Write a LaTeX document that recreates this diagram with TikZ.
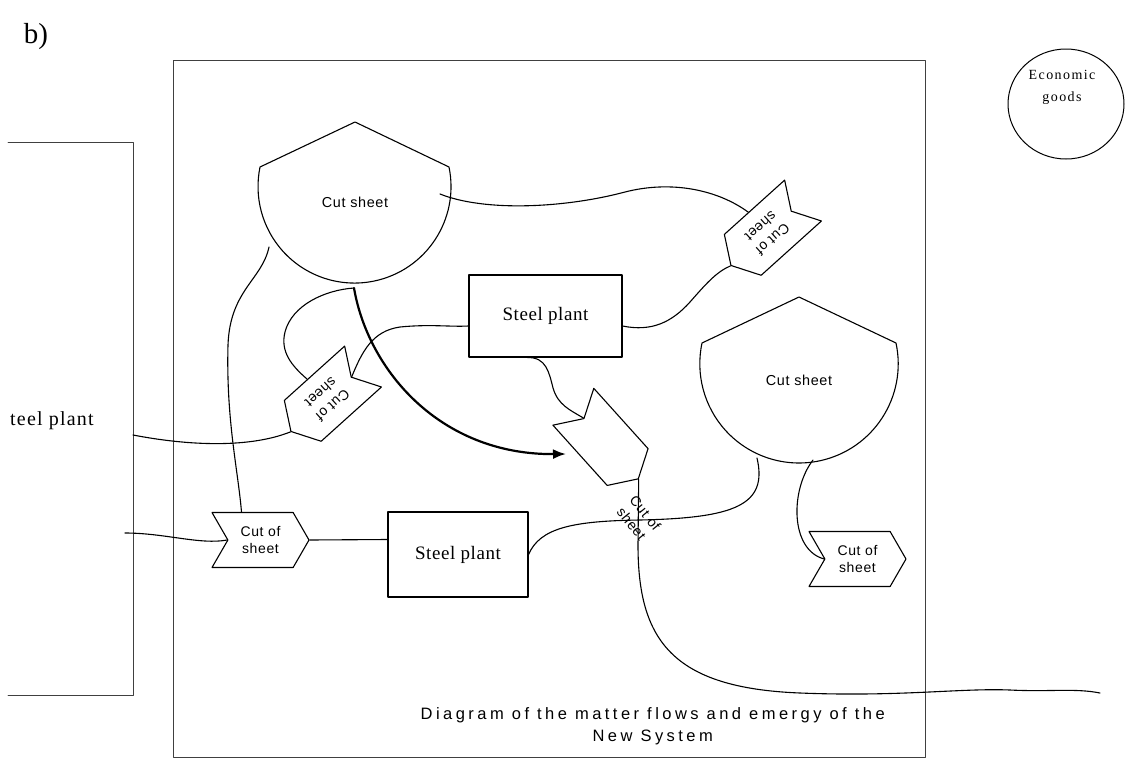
\documentclass[tikz,border=0pt]{standalone}
\usepackage{fontspec}
\setmainfont{Liberation Serif}
\newfontfamily\tagfont[LetterSpace=4.5]{Liberation Sans}
\newfontfamily\titlefont[LetterSpace=21]{Liberation Sans}
\newfontfamily\plantfont[LetterSpace=3]{Liberation Serif}
\newfontfamily\sidefont[LetterSpace=6]{Liberation Serif}
\newfontfamily\goodsfont[LetterSpace=10]{Liberation Serif}
\usetikzlibrary{shapes.symbols,shapes.geometric,arrows.meta,calc}

\begin{document}
\begin{tikzpicture}[x=1pt,y=-1pt,line join=round,line cap=round,
  flow/.style={line width=1.1pt},
  frame/.style={line width=0.9pt,draw=black!75},
  chevron/.style={shape=signal,signal to=east,signal from=west,
    signal pointer angle=120,draw,line width=1.1pt,
    minimum width=97pt,minimum height=55pt,inner sep=0pt,
    align=center,font=\tagfont\fontsize{14}{17.7}\selectfont},
  plantbox/.style={draw,line width=1.1pt,inner sep=0pt,
    font=\plantfont\fontsize{19}{24}\selectfont},
  shapelabel/.style={font=\tagfont\fontsize{14.4}{17}\selectfont},
  mainflow/.style={line width=2.2pt,-{Latex[length=13pt,width=10pt]}}
]
\useasboundingbox (0,0) rectangle (1125,758);

% panel letter
\node[font=\fontsize{29}{33}\selectfont] (panel) at (36,37) {b)};

% outer system boundary and the neighbouring system on the left
\draw[frame] (173,60) rectangle (925,757);
\draw[frame] (8,142) -- (133,142) -- (133,695) -- (8,695);
\node[anchor=west,inner sep=0pt,font=\sidefont\fontsize{20}{24}\selectfont] (LP) at (10,421) {teel plant};

% economic goods
\node[draw,ellipse,line width=1pt,minimum width=116pt,minimum height=110pt,inner sep=0pt] (EG) at (1066,104) {};
\node[align=center,font=\goodsfont\fontsize{14}{22}\selectfont] (EGt) at (1062,87) {Economic\\goods};

% cut sheet stores
\draw[flow] (355,122) -- (449,167) arc[start angle=11.7,end angle=-191.7,radius=96.5pt] -- cycle;
\node[shapelabel] (P1) at (355,202) {Cut sheet};
\draw[flow] (799,297) -- (896,343) arc[start angle=12.1,end angle=-192.1,radius=99.2pt] -- cycle;
\node[shapelabel] (P2) at (799,380) {Cut sheet};

% steel plants
\node[plantbox,minimum width=153pt,minimum height=82pt] (S1) at (545.5,316) {Steel plant};
\node[plantbox,minimum width=140pt,minimum height=85pt] (S2) at (458,554.5) {Steel plant};

% cut-of-sheet tags
\node[chevron] (L1) at (260.5,540) {Cut of\\sheet};
\node[chevron] (L2) at (857.5,559) {Cut of\\sheet};
\node[chevron,rotate=222] (R1) at (767,233) {Cut of\\sheet};
\node[chevron,rotate=222] (R2) at (327,399) {Cut of\\sheet};
\node[chevron,rotate=-48] (C) at (605.8,442.8) {};
\node[align=center,rotate=-51,font=\tagfont\fontsize{14}{17.7}\selectfont] (Ct) at (638.5,518.5) {Cut of\\sheet};

% connection points
\coordinate (LRa) at (133,435);
\coordinate (LRb) at (125,533);
\coordinate (P1e) at (440,194);
\coordinate (P1w) at (269,247);
\coordinate (P1s) at (354,288);
\coordinate (P2w) at (757,458);
\coordinate (P2e) at (813,460);
\coordinate (R2s) at (307,379);
\coordinate (Cin) at (566,454);
\coordinate (Wend) at (1100,693);

% flows
\draw[flow] (P1e) .. controls (485,212) and (565,208) .. (625,192) .. controls (672,180) and (718,190) .. (R1.south);
\draw[flow] (P1w) .. controls (262,280) and (230,290) .. (228,345) .. controls (226,420) and (238,470) .. ([xshift=-19pt]L1.north);
\draw[flow] (R2s) .. controls (292,366) and (280,352) .. (285,332) .. controls (292,305) and (325,290) .. (P1s);
\draw[flow] (R2.west) .. controls (362,352) and (372,331) .. (400,327) .. controls (430,324) and (450,327) .. ([yshift=-10pt]S1.west);
\draw[flow] (LRa) .. controls (190,446) and (250,448) .. (R2.east);
\draw[flow] ([yshift=-10pt]S1.east) .. controls (652,332) and (672,322) .. (690,302) .. controls (705,285) and (716,272) .. (R1.east);
\draw[flow] ([xshift=-18pt]S1.south) .. controls (546,357) and (549,372) .. (553,388) .. controls (558,405) and (570,410) .. (C.west);
\draw[flow] (C.east) -- (638,545) .. controls (638,640) and (672,688) .. (800,693) .. controls (900,697) and (960,688) .. (1010,690) .. controls (1050,692) and (1075,688) .. (Wend);
\draw[flow] (S2.east) .. controls (540,528) and (572,521) .. (640,520) .. controls (735,518) and (768,505) .. (P2w);
\draw[flow] (P2e) .. controls (790,490) and (790,550) .. (L2.west);
\draw[flow] (LRb) .. controls (165,533) and (200,545) .. (L1.west);
\draw[flow] (L1.east) -- ([yshift=15pt]S2.west);
\draw[mainflow] (P1s) .. controls (368,370) and (440,455) .. (Cin);

% caption
\node[anchor=north west,inner sep=0pt,align=center,font=\titlefont\fontsize{16.5}{22}\selectfont] (title) at (420.5,707) {Diagram of the matter flows and emergy of the\\New System};
\end{tikzpicture}
\end{document}
